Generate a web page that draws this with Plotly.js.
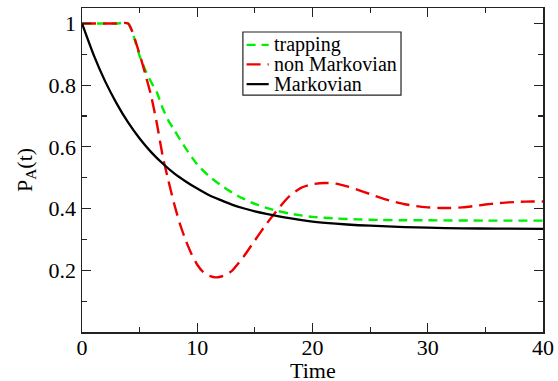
<!DOCTYPE html>
<html>
<head>
<meta charset="utf-8">
<script src="https://cdn.plot.ly/plotly-3.0.1.min.js"></script>
<style>
html,body{margin:0;padding:0;background:#fff;}
#chart{width:558px;height:381px;}
#chart text{font-family:"Liberation Serif","Times New Roman",serif !important;}
</style>
</head>
<body>
<div id="chart"></div>
<script>
// Time values and read-off curve values
const timeTrap = [0, 1, 2, 3, 4, 5, 5.5, 6, 6.5, 7, 7.5, 8, 9, 10, 11, 12, 13, 14, 15, 16, 17, 18, 19, 20, 22, 24, 26, 28, 30, 35, 40];
const trapping = [1, 1, 1, 1, 1, 0.895, 0.848, 0.81, 0.776, 0.725, 0.685, 0.655, 0.595, 0.543, 0.506, 0.477, 0.452, 0.432, 0.415, 0.402, 0.392, 0.384, 0.378, 0.373, 0.368, 0.365, 0.363, 0.362, 0.362, 0.361, 0.361];

const timeNonMarkov = [0, 1, 2, 3, 4, 5, 5.5, 6, 6.5, 7, 7.5, 8, 8.5, 9, 9.5, 10, 10.5, 11, 11.6, 12, 12.5, 13, 14, 15, 16, 17, 18, 19, 20, 21, 22, 23, 24, 25, 26, 27, 28, 29, 30, 31, 32, 33, 34, 35, 36, 37, 38, 39, 40];
const nonMarkovian = [1, 1, 1, 1, 1, 0.9, 0.835, 0.765, 0.675, 0.57, 0.49, 0.415, 0.35, 0.297, 0.253, 0.218, 0.195, 0.183, 0.177, 0.179, 0.186, 0.198, 0.243, 0.297, 0.35, 0.398, 0.44, 0.467, 0.479, 0.483, 0.481, 0.472, 0.46, 0.447, 0.434, 0.423, 0.414, 0.408, 0.404, 0.402, 0.402, 0.404, 0.408, 0.413, 0.417, 0.42, 0.422, 0.423, 0.423];

const timeMarkov = [0, 1, 2, 3, 4, 5, 6, 7, 8, 9, 10, 11, 12, 13, 14, 15, 16, 18, 20, 22, 24, 26, 28, 30, 33, 36, 40];
const markovian = [1, 0.899, 0.813, 0.741, 0.679, 0.627, 0.583, 0.546, 0.514, 0.488, 0.465, 0.444, 0.428, 0.413, 0.401, 0.391, 0.383, 0.369, 0.358, 0.351, 0.346, 0.343, 0.340, 0.338, 0.336, 0.335, 0.334];

const seriesNames = ["trapping", "non Markovian", "Markovian"];
const yTickVals = [0.2, 0.4, 0.6, 0.8, 1];
const yTickText = ["0.2", "0.4", "0.6", "0.8", "1"];
const xTickVals = [0, 10, 20, 30, 40];
const xTitle = "Time";
const yTitle = "P<sub>A</sub>(t)";

const serif = "Liberation Serif";
const colors = ["#00ee00", "#ee0000", "#000000"];
const dashes = ["9px,6px", "14px,7px", "solid"];

const traces = [
  {x: timeTrap, y: trapping, name: seriesNames[0], mode: "lines",
   line: {color: colors[0], width: 2.4, dash: dashes[0], shape: "spline", smoothing: 0.6}},
  {x: timeNonMarkov, y: nonMarkovian, name: seriesNames[1], mode: "lines",
   line: {color: colors[1], width: 2.4, dash: dashes[1], shape: "spline", smoothing: 0.6}},
  {x: timeMarkov, y: markovian, name: seriesNames[2], mode: "lines",
   line: {color: colors[2], width: 2.3, shape: "spline", smoothing: 0.6}}
];

// Hand-built legend box (tighter rows than Plotly's built-in legend)
const legRowY = [0.886, 0.826, 0.765];
const shapes = [
  {type: "rect", xref: "paper", yref: "paper", x0: 0.349, x1: 0.692, y0: 0.731, y1: 0.926,
   line: {color: "#222", width: 1.2}, fillcolor: "rgba(255,255,255,1)", layer: "above"}
];
const annotations = [];
for (let i = 0; i < seriesNames.length; i++) {
  shapes.push({type: "line", xref: "paper", yref: "paper", x0: 0.357, x1: 0.405,
    y0: legRowY[i], y1: legRowY[i], layer: "above",
    line: {color: colors[i], width: 2.2, dash: dashes[i]}});
  annotations.push({xref: "paper", yref: "paper", x: 0.413, y: legRowY[i],
    xanchor: "left", yanchor: "middle", showarrow: false, text: seriesNames[i],
    font: {family: serif, size: 20, color: "#000"}});
}
// x-axis title placed as text below the tick labels
annotations.push({xref: "paper", yref: "paper", x: 0.5, y: 0, xanchor: "center", yanchor: "top",
  yshift: -24, showarrow: false, text: xTitle, font: {family: serif, size: 22, color: "#000"}});

const axisCommon = {
  showline: true, linecolor: "#222", linewidth: 1.5, mirror: "allticks",
  ticks: "inside", ticklen: 9, tickwidth: 1.2, tickcolor: "#222",
  showgrid: false, zeroline: false,
  tickfont: {family: serif, size: 22, color: "#000"}
};

const layout = {
  width: 558, height: 381,
  margin: {l: 82, r: 15, t: 8, b: 49},
  paper_bgcolor: "#fff", plot_bgcolor: "#fff",
  font: {family: serif, size: 22, color: "#000"},
  showlegend: false,
  shapes: shapes,
  annotations: annotations,
  xaxis: Object.assign({}, axisCommon, {
    range: [0, 40], tickvals: xTickVals, ticklabelstandoff: -5,
    minor: {dtick: 5, tick0: 0, ticks: "inside", ticklen: 5, tickcolor: "#222", tickwidth: 1.2}
  }),
  yaxis: Object.assign({}, axisCommon, {
    range: [0, 1.05], tickvals: yTickVals, ticktext: yTickText,
    minor: {dtick: 0.1, tick0: 0, ticks: "inside", ticklen: 5, tickcolor: "#222", tickwidth: 1.2},
    title: {text: yTitle, font: {family: serif, size: 22, color: "#000"}, standoff: 10}
  })
};

Plotly.newPlot("chart", traces, layout, {staticPlot: true, displayModeBar: false});
</script>
</body>
</html>
